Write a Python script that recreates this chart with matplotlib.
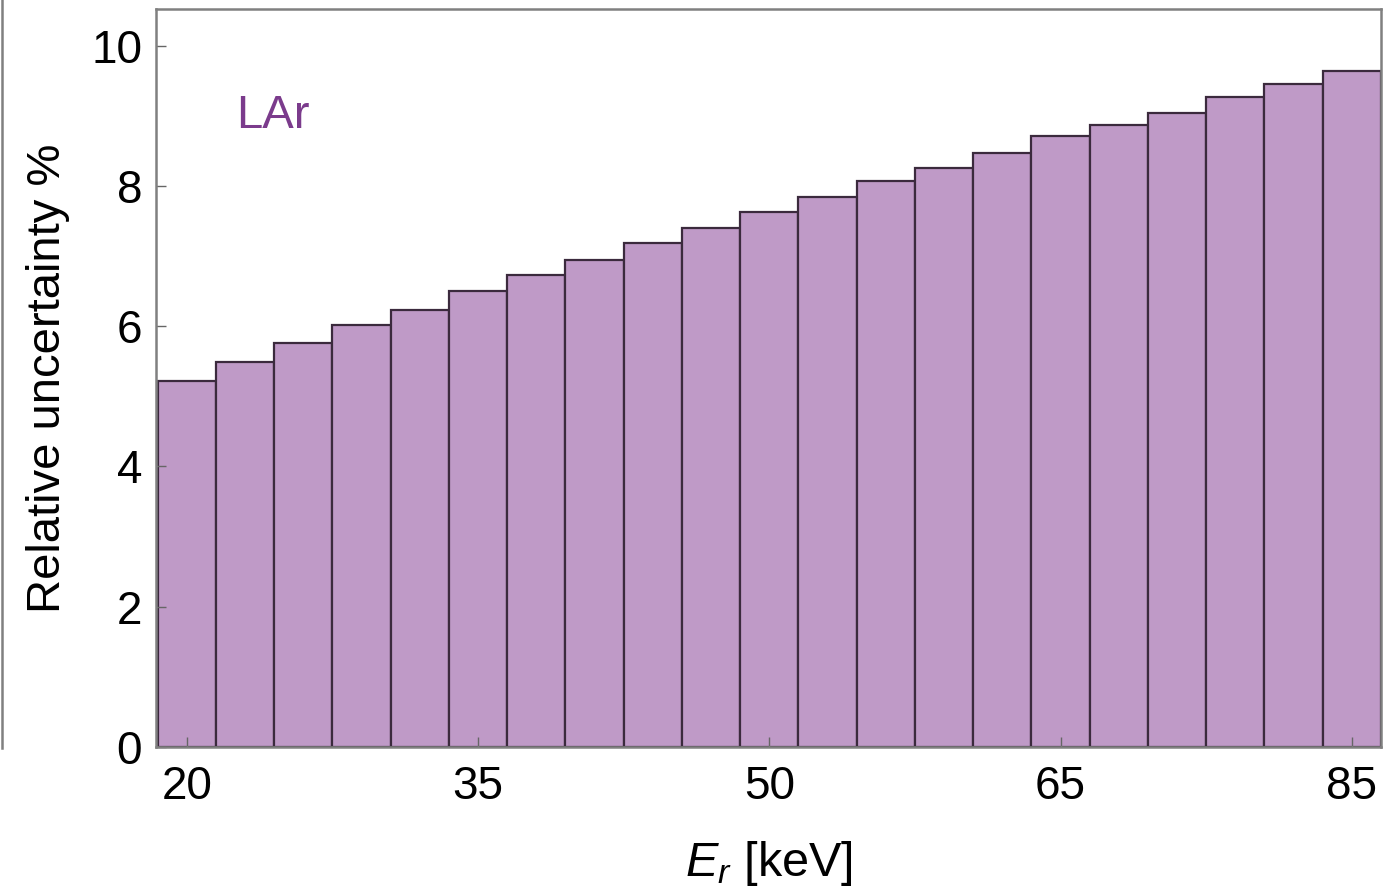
import numpy as np
import matplotlib
matplotlib.use("Agg")
import matplotlib.pyplot as plt
from matplotlib.lines import Line2D

# Relative uncertainty per energy bin (LAr)
uncertainty = [5.22, 5.49, 5.76, 6.02, 6.24, 6.50, 6.73, 6.95, 7.19, 7.40, 7.63,
               7.84, 8.07, 8.26, 8.47, 8.71, 8.88, 9.05, 9.28, 9.46, 9.64]
tick_bins = [0, 5, 10, 15, 20]
tick_labels = ["20", "35", "50", "65", "85"]
y_ticks = [0, 2, 4, 6, 8, 10]

plt.rcParams['font.family'] = ['Liberation Sans', 'DejaVu Sans']
plt.rcParams['mathtext.fontset'] = 'custom'
plt.rcParams['mathtext.rm'] = 'Liberation Sans'
plt.rcParams['mathtext.it'] = 'Liberation Sans:italic'

fig = plt.figure(figsize=(13.84, 8.91), dpi=100)
ax = fig.add_axes([0.1127, 0.1620, 0.8851, 0.8279])

x = np.arange(len(uncertainty))
ax.bar(x, uncertainty, width=1.0, color='#bf9ac7', edgecolor='#3b2a3d', linewidth=1.6)

ax.set_xlim(-0.53, 20.5)
ax.set_ylim(0, 10.53)
ax.set_xticks(tick_bins)
ax.set_xticklabels(tick_labels)
ax.set_yticks(y_ticks)

ax.tick_params(axis='both', direction='in', length=7, width=1.0, color='#666666',
               labelsize=33, labelcolor='black')
ax.tick_params(axis='x', pad=13)
ax.tick_params(axis='y', pad=10)

for s in ax.spines.values():
    s.set_color('#808080')
    s.set_linewidth(1.8)

ax.set_ylabel('Relative uncertainty %', fontsize=34)
ax.yaxis.set_label_coords(-0.07, 0.5)
ax.set_xlabel(r'$E_r$ [keV]', fontsize=35)
ax.xaxis.set_label_coords(0.5, -0.125)

ax.text(1.48, 9.0, 'LAr', color='#7b3b8c', fontsize=34, ha='center', va='center')

# frame edge from the neighbouring panel
fig.add_artist(Line2D([0.0012, 0.0012], [0.161, 1.0], transform=fig.transFigure,
                      color='#808080', linewidth=1.8))

fig.savefig('out.png', dpi=100)
